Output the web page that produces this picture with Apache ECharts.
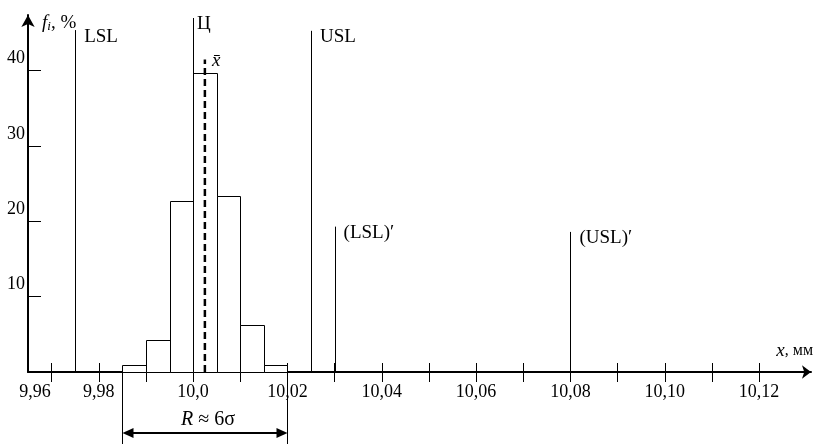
<!DOCTYPE html>
<html>
<head>
<meta charset="utf-8">
<script src="https://cdn.jsdelivr.net/npm/echarts@6/dist/echarts.min.js"></script>
<style>
html,body{margin:0;padding:0;background:#fff;}
#chart{width:816px;height:444px;}
</style>
</head>
<body>
<div id="chart"></div>
<script>
// ---- data ----
const binStart = [9.985, 9.990, 9.995, 10.000, 10.005, 10.010, 10.015];
const binEnd   = [9.990, 9.995, 10.000, 10.005, 10.010, 10.015, 10.020];
const freq     = [0.9, 4.2, 22.7, 39.7, 23.4, 6.3, 0.9];

const limitNames = ['LSL', 'Ц', 'USL', '(LSL)′', '(USL)′'];
const limitX     = [9.975, 10.000, 10.025, 10.030, 10.080];
const limitTop   = [45.4, 47.0, 45.3, 19.3, 18.6];

const meanX = [10.0025];
const meanTop = [41.5];
const meanLabel = ['x̄'];

const rangeX = [9.985, 10.020];
const rangeLabel = ['R', ' ≈ 6σ'];

const xTickValues = [9.97, 9.98, 9.99, 10.00, 10.01, 10.02, 10.03, 10.04, 10.05, 10.06, 10.07, 10.08, 10.09, 10.10, 10.11, 10.12];
const xLabelValues = [9.96, 9.98, 10.00, 10.02, 10.04, 10.06, 10.08, 10.10, 10.12];
const xLabelTexts  = ['9,96', '9,98', '10,0', '10,02', '10,04', '10,06', '10,08', '10,10', '10,12'];
const yTickValues = [10, 20, 30, 40];

const xMin = 9.965, xMax = 10.131;
const yMin = 0, yMax = 47.4;

const FONT = '"Liberation Serif", "Times New Roman", serif';

function xLabelFor(v) {
  let best = 0, bd = Infinity;
  xLabelValues.forEach((lv, i) => {
    const d = Math.abs(Math.max(lv, xMin) - v);
    if (d < bd) { bd = d; best = i; }
  });
  // the origin label sits just right of the y axis
  return best === 0 ? '{o|' + xLabelTexts[best] + '}' : xLabelTexts[best];
}

const chart = echarts.init(document.getElementById('chart'), null, {renderer: 'canvas'});

const option = {
  animation: false,
  backgroundColor: '#fff',
  grid: {left: 28, right: 4.5, top: 15, bottom: 72, containLabel: false},
  xAxis: [{
    type: 'value', min: xMin, max: xMax, position: 'bottom',
    axisLine: {show: true, onZero: false, symbol: ['none', 'arrow'], symbolSize: [10, 9],
      lineStyle: {color: '#000', width: 2}},
    axisTick: {show: true, inside: false, length: 10, customValues: xTickValues,
      lineStyle: {color: '#000', width: 1}},
    axisLabel: {show: true, customValues: xLabelValues.map(v => Math.max(v, xMin)),
      formatter: v => xLabelFor(v), margin: 11, color: '#000', fontFamily: FONT, fontSize: 18,
      rich: {o: {fontFamily: FONT, fontSize: 18, color: '#000', padding: [0, 0, 0, 14]}}},
    splitLine: {show: false},
    name: '{i|x}{n|, мм}', nameLocation: 'end', nameGap: 2,
    nameTextStyle: {align: 'right', verticalAlign: 'bottom', padding: [0, 0, 12, 0],
      rich: {i: {fontFamily: FONT, fontStyle: 'italic', fontSize: 19, color: '#000'},
             n: {fontFamily: FONT, fontSize: 16, color: '#000'}}}
  }, {
    type: 'value', min: xMin, max: xMax, position: 'bottom',
    axisLine: {show: false},
    axisTick: {show: true, inside: true, length: 9, customValues: xTickValues,
      lineStyle: {color: '#000', width: 1}},
    axisLabel: {show: false},
    splitLine: {show: false}
  }],
  yAxis: {
    type: 'value', min: yMin, max: yMax,
    axisLine: {show: true, onZero: false, symbol: ['none', 'arrow'], symbolSize: [10, 12],
      lineStyle: {color: '#000', width: 2}},
    axisTick: {show: true, inside: true, length: 13, customValues: yTickValues,
      lineStyle: {color: '#000', width: 1}},
    axisLabel: {show: true, customValues: yTickValues, margin: 3, color: '#000',
      fontFamily: FONT, fontSize: 18, verticalAlign: 'bottom', padding: [0, 0, 3, 0]},
    splitLine: {show: false},
    name: '{i|f}{s|i}{n|, %}', nameLocation: 'end', nameGap: -8,
    nameTextStyle: {align: 'left', verticalAlign: 'middle', padding: [0, 0, 0, 14],
      rich: {i: {fontFamily: FONT, fontStyle: 'italic', fontSize: 19, color: '#000'},
             s: {fontFamily: FONT, fontStyle: 'italic', fontSize: 13, color: '#000', verticalAlign: 'bottom', padding: [8, 0, 0, 0]},
             n: {fontFamily: FONT, fontSize: 19, color: '#000'}}}
  },
  series: [
    {
      type: 'custom', name: 'hist', xAxisIndex: 0, yAxisIndex: 0, clip: false,
      data: binStart.map((s, i) => [s, binEnd[i], freq[i]]),
      renderItem: (params, api) => {
        const p0 = api.coord([api.value(0), 0]);
        const p1 = api.coord([api.value(1), api.value(2)]);
        return {type: 'rect',
          shape: {x: Math.round(p0[0]) + 0.5, y: Math.round(p1[1]) + 0.5,
                  width: Math.round(p1[0]) - Math.round(p0[0]), height: Math.round(p0[1]) - Math.round(p1[1])},
          style: {fill: '#fff', stroke: '#000', lineWidth: 1}};
      }
    },
    {
      type: 'custom', name: 'limits', clip: false,
      data: limitX.map((x, i) => [x, limitTop[i], i]),
      renderItem: (params, api) => {
        const x = api.value(0), top = api.value(1), idx = api.value(2);
        const p0 = api.coord([x, 0]), p1 = api.coord([x, top]);
        const name = limitNames[idx];
        const dx = name === 'Ц' ? 4 : 9;
        const px = Math.round(p0[0]) + 0.5;
        return {type: 'group', children: [
          {type: 'line', shape: {x1: px, y1: p0[1], x2: px, y2: p1[1]},
           style: {stroke: '#000', lineWidth: 1}},
          {type: 'text', x: p1[0] + dx, y: p1[1] - 3,
           style: {text: name, font: '19px ' + FONT, fill: '#000', verticalAlign: 'top', align: 'left'}}
        ]};
      }
    },
    {
      type: 'custom', name: 'mean', clip: false,
      data: meanX.map((x, i) => [x, meanTop[i]]),
      renderItem: (params, api) => {
        const p0 = api.coord([api.value(0), 0]), p1 = api.coord([api.value(0), api.value(1)]);
        return {type: 'group', children: [
          {type: 'line', shape: {x1: p0[0], y1: p0[1], x2: p1[0], y2: p1[1]},
           style: {stroke: '#000', lineWidth: 2.5, lineDash: [7, 4]}},
          {type: 'text', x: p1[0] + 7, y: p1[1] - 8,
           style: {text: meanLabel[0], font: 'italic 19px ' + FONT, fill: '#000', verticalAlign: 'top', align: 'left'}}
        ]};
      }
    },
    {
      type: 'custom', name: 'range', clip: false,
      data: [[rangeX[0], rangeX[1]]],
      renderItem: (params, api) => {
        const a = api.coord([api.value(0), 0]), b = api.coord([api.value(1), 0]);
        const xa = Math.round(a[0]) + 0.5, xb = Math.round(b[0]) + 0.5;
        const y0 = a[1], yArr = a[1] + 61, yEnd = a[1] + 72;
        const ah = 9, aw = 5;
        return {type: 'group', children: [
          {type: 'line', shape: {x1: xa, y1: y0, x2: xa, y2: yEnd}, style: {stroke: '#000', lineWidth: 1}},
          {type: 'line', shape: {x1: xb, y1: y0, x2: xb, y2: yEnd}, style: {stroke: '#000', lineWidth: 1}},
          {type: 'line', shape: {x1: xa + ah, y1: yArr, x2: xb - ah, y2: yArr}, style: {stroke: '#000', lineWidth: 2}},
          {type: 'polygon', shape: {points: [[xa, yArr], [xa + ah + 2, yArr - aw], [xa + ah + 2, yArr + aw]]}, style: {fill: '#000'}},
          {type: 'polygon', shape: {points: [[xb, yArr], [xb - ah - 2, yArr - aw], [xb - ah - 2, yArr + aw]]}, style: {fill: '#000'}},
          {type: 'text', x: (xa + xb) / 2 + 3, y: y0 + 48,
           style: {text: '{i|' + rangeLabel[0] + '}{n|' + rangeLabel[1] + '}', align: 'center', verticalAlign: 'middle',
             rich: {i: {fontFamily: FONT, fontStyle: 'italic', fontSize: 20, fill: '#000'},
                    n: {fontFamily: FONT, fontSize: 20, fill: '#000'}}}}
        ]};
      }
    }
  ]
};
chart.setOption(option);
</script>
</body>
</html>
